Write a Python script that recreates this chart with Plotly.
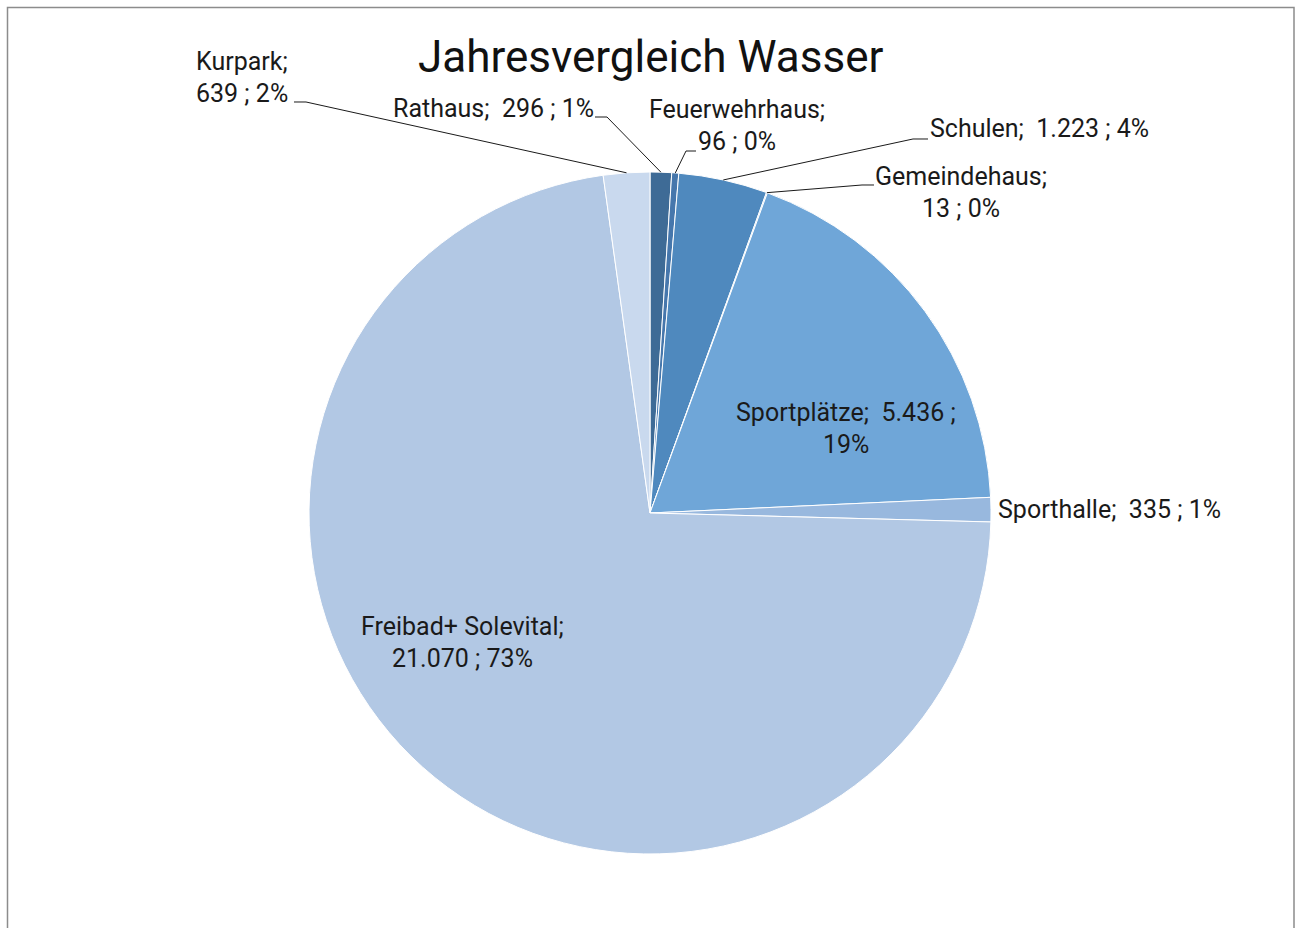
import math
import plotly.graph_objects as go

# ---- data ----
labels = ["Rathaus", "Feuerwehrhaus", "Schulen", "Gemeindehaus",
          "Sportplätze", "Sporthalle", "Freibad+ Solevital", "Kurpark"]
values = [296, 96, 1223, 13, 5436, 335, 21070, 639]
value_text = ["296", "96", "1.223", "13", "5.436", "335", "21.070", "639"]
percent_text = ["1%", "0%", "4%", "0%", "19%", "1%", "73%", "2%"]
title_text = "Jahresvergleich Wasser"

colors = ["#3E6B96", "#4677AC", "#4F89BE", "#5C95CB", "#6FA6D8",
          "#98B8DE", "#B2C8E4", "#C9D9EE"]

# ---- geometry (pixels) ----
W, H = 1298, 928
CX, CY, R = 650, 513, 341
FONT = "Roboto, sans-serif"
FS = 25


def px(x):
    return x / W


def py(y):
    return 1 - y / H


total = sum(values)
cum = 0
mid_angles = []
for v in values:
    mid_angles.append((cum + v / 2) / total * 2 * math.pi)
    cum += v


def edge_point(i):
    a = mid_angles[i]
    return CX + R * math.sin(a), CY - R * math.cos(a)


fig = go.Figure(go.Pie(
    labels=labels, values=values, sort=False, direction="clockwise",
    rotation=0, textinfo="none", hoverinfo="label+value+percent",
    marker=dict(colors=colors, line=dict(color="white", width=1)),
    domain=dict(x=[px(CX - R), px(CX + R)], y=[py(CY + R), py(CY - R)]),
    showlegend=False,
))

# label layout: lines of text (x, y, anchor) and leader polyline start/elbow
label_layout = {
    0: dict(lines=[(f"{labels[0]};  {value_text[0]} ; {percent_text[0]}", 391, 108, "left")],
            leader=[(595, 117), (607, 117)]),
    1: dict(lines=[(f"{labels[1]};", 737, 110, "center"),
                   (f"{value_text[1]} ; {percent_text[1]}", 737, 142, "center")],
            leader=[(696, 151), (686, 151)]),
    2: dict(lines=[(f"{labels[2]};  {value_text[2]} ; {percent_text[2]}", 928, 129, "left")],
            leader=[(928, 139), (913, 139)]),
    3: dict(lines=[(f"{labels[3]};", 961, 176, "center"),
                   (f"{value_text[3]} ; {percent_text[3]}", 961, 208, "center")],
            leader=[(874, 185), (862, 185)]),
    4: dict(lines=[(f"{labels[4]};  {value_text[4]} ;", 846, 412, "center"),
                   (f"{percent_text[4]}", 846, 444, "center")],
            leader=None),
    5: dict(lines=[(f"{labels[5]};  {value_text[5]} ; {percent_text[5]}", 996, 510, "left")],
            leader=None),
    6: dict(lines=[(f"{labels[6]};", 462, 626, "center"),
                   (f"{value_text[6]} ; {percent_text[6]}", 462, 658, "center")],
            leader=None),
    7: dict(lines=[(f"{labels[7]};", 194, 62, "left"),
                   (f"{value_text[7]} ; {percent_text[7]}", 194, 94, "left")],
            leader=[(294, 102), (306, 102)]),
}

annotations = []
shapes = []
for i, spec in label_layout.items():
    for text, x, y, anchor in spec["lines"]:
        annotations.append(dict(
            text=text, x=px(x), y=py(y), xref="paper", yref="paper",
            xanchor=anchor, yanchor="middle", showarrow=False,
            font=dict(family=FONT, size=FS, color="#1a1a1a"),
        ))
    if spec["leader"]:
        pts = spec["leader"] + [edge_point(i)]
        path = "M " + " L ".join(f"{px(a):.5f},{py(b):.5f}" for a, b in pts)
        shapes.append(dict(type="path", path=path, xref="paper", yref="paper",
                           line=dict(color="#1a1a1a", width=1)))

annotations.append(dict(
    text=title_text, x=px(650), y=py(57), xref="paper", yref="paper",
    xanchor="center", yanchor="middle", showarrow=False,
    font=dict(family=FONT, size=44, color="#111111"),
))

# chart border
shapes.append(dict(type="rect", xref="paper", yref="paper",
                   x0=px(7.5), x1=px(1294), y0=py(940), y1=py(7.5),
                   line=dict(color="#8c8c8c", width=1.5)))

fig.update_layout(
    width=W, height=H, margin=dict(l=0, r=0, t=0, b=0),
    paper_bgcolor="white", plot_bgcolor="white",
    annotations=annotations, shapes=shapes,
)

fig.write_html("out.html", config={"displayModeBar": False},
               post_script="document.body.style.margin='0';document.body.style.overflow='hidden';")
